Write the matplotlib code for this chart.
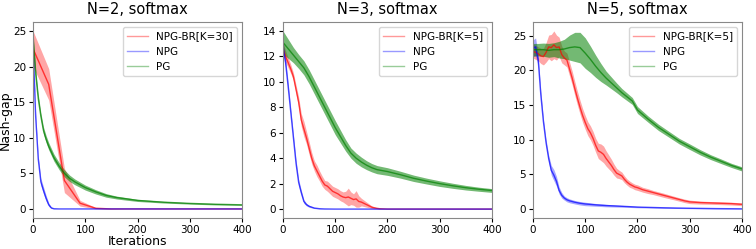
import numpy as np
from matplotlib import pyplot as plt

# ---- N=2 ----
x_br2 = [0, 30, 60, 90, 120, 150, 180, 210, 240, 270, 300, 330, 360, 390, 400]
br2_mean = [22.5, 17.5, 4.0, 0.8, 0.1, 0.0, 0, 0, 0, 0, 0, 0, 0, 0, 0]
br2_std = [2.5, 2.2, 1.7, 0.4, 0.1, 0.02, 0, 0, 0, 0, 0, 0, 0, 0, 0]

x_npg2 = [0, 5, 10, 15, 20, 25, 30, 35, 40, 50, 60, 100, 200, 300, 400]
npg2_mean = [23.0, 13.0, 7.0, 3.8, 2.6, 1.5, 0.6, 0.15, 0.03, 0.0, 0, 0, 0, 0, 0]
npg2_std = [0.8, 0.6, 0.5, 0.5, 0.5, 0.4, 0.25, 0.1, 0.03, 0, 0, 0, 0, 0, 0]

x_pg2 = [0, 5, 10, 15, 20, 25, 30, 40, 50, 60, 70, 80, 100, 120, 140, 160, 180,
         200, 250, 300, 350, 400]
pg2_mean = [24.0, 19.0, 15.5, 13.0, 11.0, 9.8, 8.8, 7.2, 6.0, 5.0, 4.3, 3.8, 3.0,
            2.4, 1.9, 1.6, 1.4, 1.2, 0.95, 0.78, 0.66, 0.58]
pg2_std = [1.0, 0.8, 0.6, 0.5, 0.5, 0.5, 0.5, 0.5, 0.5, 0.5, 0.45, 0.4, 0.35,
           0.3, 0.25, 0.2, 0.18, 0.15, 0.12, 0.1, 0.1, 0.08]

# ---- N=3 ----
x_br3 = list(range(0, 205, 5)) + [250, 300, 350, 400]
br3_mean = [12.6, 12.0, 11.5, 11.0, 10.4, 9.4, 8.4, 7.0, 6.3, 5.6, 4.8, 4.0, 3.4,
            3.0, 2.6, 2.2, 1.9, 1.8, 1.6, 1.4, 1.3, 1.2, 1.05, 0.95, 0.9, 0.95,
            0.85, 0.75, 0.8, 0.6, 0.55, 0.45, 0.35, 0.25, 0.15, 0.1, 0.06, 0.03,
            0.02, 0.01, 0.0, 0, 0, 0, 0]
br3_std = [0.5, 0.45, 0.4, 0.35, 0.3, 0.35, 0.4, 0.5, 0.6, 0.5, 0.5, 0.45, 0.4,
           0.45, 0.4, 0.4, 0.35, 0.4, 0.4, 0.4, 0.4, 0.4, 0.4, 0.4, 0.5, 0.7,
           0.5, 0.45, 0.65, 0.45, 0.3, 0.25, 0.2, 0.15, 0.1, 0.07, 0.04, 0.02,
           0.01, 0.0, 0.0, 0, 0, 0, 0]

x_npg3 = [0, 5, 10, 15, 20, 25, 30, 35, 40, 45, 50, 60, 70, 80, 100, 200, 300, 400]
npg3_mean = [12.8, 11.5, 9.6, 7.6, 5.6, 3.6, 2.1, 1.3, 0.6, 0.35, 0.22, 0.08,
             0.03, 0.01, 0, 0, 0, 0]
npg3_std = [0.5, 0.4, 0.35, 0.3, 0.3, 0.3, 0.25, 0.2, 0.15, 0.1, 0.08, 0.04,
            0.02, 0.01, 0, 0, 0, 0]

x_pg3 = [0, 10, 20, 30, 40, 50, 60, 70, 80, 90, 100, 110, 120, 130, 140, 150,
         160, 170, 180, 200, 225, 250, 275, 300, 325, 350, 375, 400]
pg3_mean = [13.1, 12.6, 12.1, 11.6, 11.1, 10.4, 9.6, 8.8, 8.0, 7.2, 6.4, 5.7,
            5.0, 4.4, 4.0, 3.7, 3.45, 3.25, 3.1, 2.95, 2.7, 2.42, 2.2, 2.0,
            1.83, 1.68, 1.56, 1.46]
pg3_std = [0.9, 0.75, 0.6, 0.55, 0.55, 0.55, 0.55, 0.55, 0.55, 0.55, 0.55, 0.5,
           0.45, 0.4, 0.4, 0.38, 0.35, 0.33, 0.32, 0.3, 0.27, 0.25, 0.23, 0.22,
           0.2, 0.18, 0.16, 0.15]

# ---- N=5 ----
x_br5 = list(range(0, 205, 5)) + [210, 220, 230, 240, 250, 260, 270, 280, 290,
                                  300, 320, 340, 360, 380, 400]
br5_mean = [22.8, 22.6, 22.4, 22.1, 22.0, 22.6, 23.4, 23.3, 23.7, 23.3, 23.4,
            22.3, 21.8, 21.5, 20.2, 18.9, 17.4, 16.0, 14.7, 13.5, 12.5, 11.6,
            11.0, 10.2, 9.2, 8.4, 8.2, 7.9, 7.3, 6.8, 6.3, 5.7, 5.2, 5.0, 4.8,
            4.3, 3.9, 3.6, 3.4, 3.2, 3.1,
            2.8, 2.6, 2.4, 2.2, 2.0, 1.8, 1.6, 1.4, 1.2, 1.05, 0.95, 0.9, 0.85,
            0.8, 0.7]
br5_std = [1.0, 1.0, 1.0, 1.1, 1.2, 1.4, 1.7, 1.9, 2.0, 1.8, 1.4, 1.2, 1.0, 1.0,
           1.0, 1.0, 1.0, 1.0, 1.0, 1.0, 1.0, 1.0, 1.0, 1.0, 1.0, 1.1, 1.2, 1.2,
           1.1, 1.0, 0.9, 0.8, 0.7, 0.6, 0.55, 0.5, 0.45, 0.45, 0.4, 0.4, 0.4,
           0.35, 0.35, 0.3, 0.3, 0.3, 0.28, 0.26, 0.25, 0.25, 0.25, 0.22, 0.2,
           0.2, 0.2, 0.2]

x_npg5 = [0, 5, 10, 15, 20, 25, 30, 35, 40, 45, 50, 55, 60, 65, 70, 80, 90, 100,
          120, 140, 160, 180, 200, 250, 300, 350, 400]
npg5_mean = [23.2, 23.4, 21.5, 16.5, 12.6, 9.6, 7.3, 5.6, 4.9, 4.0, 2.7, 2.0,
             1.6, 1.35, 1.2, 1.0, 0.85, 0.75, 0.62, 0.52, 0.45, 0.38, 0.3, 0.2,
             0.13, 0.08, 0.05]
npg5_std = [1.2, 1.3, 0.8, 0.6, 0.5, 0.5, 0.5, 0.7, 0.8, 0.7, 0.5, 0.4, 0.3,
            0.3, 0.28, 0.25, 0.25, 0.25, 0.2, 0.18, 0.15, 0.12, 0.1, 0.08, 0.06,
            0.05, 0.04]

x_pg5 = [0, 10, 20, 30, 40, 50, 60, 70, 80, 90, 100, 110, 120, 130, 140, 150,
         160, 170, 180, 190, 200, 220, 240, 260, 280, 300, 320, 340, 360, 380, 400]
pg5_mean = [23.0, 23.0, 23.0, 22.9, 23.0, 23.0, 23.1, 23.3, 23.4, 23.3, 22.5,
            21.6, 20.6, 19.7, 18.9, 18.2, 17.5, 16.8, 16.2, 15.6, 14.3, 13.0,
            11.8, 10.8, 9.8, 9.0, 8.2, 7.5, 6.9, 6.3, 5.8]
pg5_std = [0.9, 0.9, 0.95, 1.0, 1.0, 1.2, 1.4, 1.8, 2.1, 2.2, 2.2, 1.9, 1.6, 1.3,
           1.0, 0.85, 0.7, 0.6, 0.55, 0.5, 0.5, 0.45, 0.45, 0.42, 0.4, 0.4,
           0.38, 0.35, 0.33, 0.3, 0.3]

panels = [
    ("N=2, softmax", "NPG-BR[K=30]",
     [(x_br2, br2_mean, br2_std), (x_npg2, npg2_mean, npg2_std), (x_pg2, pg2_mean, pg2_std)]),
    ("N=3, softmax", "NPG-BR[K=5]",
     [(x_br3, br3_mean, br3_std), (x_npg3, npg3_mean, npg3_std), (x_pg3, pg3_mean, pg3_std)]),
    ("N=5, softmax", "NPG-BR[K=5]",
     [(x_br5, br5_mean, br5_std), (x_npg5, npg5_mean, npg5_std), (x_pg5, pg5_mean, pg5_std)]),
]
colors = ['r', 'b', 'g']
band_alpha = [0.35, 0.35, 0.55]

fig = plt.figure(figsize=(7.56, 2.49), dpi=100)
lefts = [0.0437, 0.3743, 0.705]
for i, (title, brname, series) in enumerate(panels):
    ax = fig.add_axes([lefts[i], 0.1245, 0.2765, 0.787])
    names = [brname, "NPG", "PG"]
    for (x, m, s), c, a, name in zip(series, colors, band_alpha, names):
        x = np.array(x)
        m = np.array(m)
        s = np.array(s)
        ax.plot(x, m, color=c, alpha=0.7, lw=1, label=name)
        ax.fill_between(x, m - s, m + s, color=c, alpha=a, lw=0)
    ax.set_xlim(0, 400)
    ax.set_xticks([0, 100, 200, 300, 400])
    ax.set_title(title, fontsize=10.5)
    ax.tick_params(labelsize=7.5, pad=2, length=3)
    for sp in ax.spines.values():
        sp.set_color('#888888')
    leg = ax.legend(loc='upper right', fontsize=7.5)
    for h in leg.get_lines():
        h.set_alpha(0.4)
    if i == 0:
        ax.set_ylabel("Nash-gap", fontsize=9, labelpad=1)
        ax.set_xlabel("Iterations", fontsize=9, labelpad=0)

fig.savefig("out.png", dpi=100)
